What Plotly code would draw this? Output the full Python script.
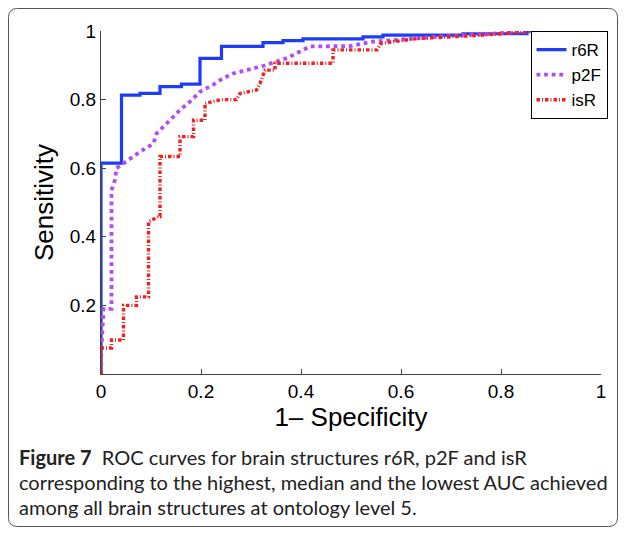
import plotly.graph_objects as go

# r6R (highest AUC)
r6r_fpr = [0, 0, 0.041, 0.041, 0.078, 0.078, 0.118, 0.118, 0.161, 0.161, 0.198, 0.198, 0.241, 0.241,
           0.324, 0.324, 0.364, 0.364, 0.404, 0.404, 0.524, 0.524, 0.564, 0.564, 0.724, 0.724, 0.852, 0.852, 1.0]
r6r_tpr = [0, 0.615, 0.615, 0.813, 0.813, 0.818, 0.818, 0.838, 0.838, 0.845, 0.845, 0.92, 0.92, 0.955,
           0.955, 0.966, 0.966, 0.972, 0.972, 0.977, 0.977, 0.983, 0.983, 0.988, 0.988, 0.992, 0.992, 1.0, 1.0]

# p2F (median AUC)
p2f_fpr = [0, 0.005, 0.005, 0.021, 0.021, 0.028, 0.031, 0.045, 0.078, 0.105, 0.111, 0.138, 0.158, 0.178,
           0.198, 0.224, 0.244, 0.264, 0.292, 0.324, 0.372, 0.398, 0.418, 0.498, 0.544, 0.672, 0.852, 1.0]
p2f_tpr = [0.05, 0.16, 0.19, 0.19, 0.536, 0.566, 0.60, 0.614, 0.648, 0.672, 0.701, 0.74, 0.77, 0.794,
           0.823, 0.843, 0.862, 0.876, 0.886, 0.898, 0.921, 0.94, 0.955, 0.956, 0.969, 0.983, 0.998, 1.0]

# isR (lowest AUC)
isr_fpr = [0, 0, 0.021, 0.021, 0.045, 0.045, 0.071, 0.071, 0.095, 0.095, 0.115, 0.118, 0.118, 0.158, 0.158,
           0.185, 0.185, 0.208, 0.208, 0.24, 0.271, 0.278, 0.311, 0.318, 0.328, 0.348, 0.348, 0.438, 0.464,
           0.464, 0.552, 0.56, 0.632, 0.764, 0.852, 1.0]
isr_tpr = [0, 0.076, 0.076, 0.099, 0.099, 0.2, 0.2, 0.225, 0.225, 0.444, 0.459, 0.459, 0.634, 0.634, 0.692,
           0.692, 0.74, 0.74, 0.789, 0.80, 0.80, 0.818, 0.828, 0.847, 0.886, 0.886, 0.906, 0.906, 0.906,
           0.945, 0.945, 0.964, 0.978, 0.988, 0.998, 1.0]

series_names = ["r6R", "p2F", "isR"]
x_ticks = [0, 0.2, 0.4, 0.6, 0.8, 1]
x_tick_labels = ["0", "0.2", "0.4", "0.6", "0.8", "1"]
y_ticks = [0.2, 0.4, 0.6, 0.8, 1]
y_tick_labels = ["0.2", "0.4", "0.6", "0.8", "1"]

caption_lines = [
    "<b>Figure 7</b>  ROC curves for brain structures r6R, p2F and isR",
    "corresponding to the highest, median and the lowest AUC achieved",
    "among all brain structures at ontology level 5.",
]

fig = go.Figure()
fig.add_trace(go.Scatter(x=r6r_fpr, y=r6r_tpr, mode="lines", name=series_names[0],
                         line=dict(color="#1f3cf5", width=3.2, dash="solid")))
fig.add_trace(go.Scatter(x=p2f_fpr, y=p2f_tpr, mode="lines", name=series_names[1],
                         line=dict(color="#b24cf5", width=3.8, dash="dot")))
fig.add_trace(go.Scatter(x=isr_fpr, y=isr_tpr, mode="lines", name=series_names[2],
                         line=dict(color="#f02020", width=3.4, dash="3.5px,2px,1px,2px")))

OFF = 8  # the page body has an 8px margin
W, H = 626 - OFF, 535 - OFF
L, T = 101 - OFF, 31 - OFF
R = W - (601 - OFF)
B = H - (374 - OFF)
pw, ph = W - L - R, H - T - B

def px2paper(px, py):
    return (px - OFF - L) / pw, (H - B - (py - OFF)) / ph

# rounded frame around whole figure
x0, y0 = px2paper(8.5, 8.5)
x1, y1 = px2paper(617.5, 526.5)
rx, ry = 9 / pw, 9 / ph
path = (f"M {x0+rx},{y0} L {x1-rx},{y0} Q {x1},{y0} {x1},{y0-ry} "
        f"L {x1},{y1+ry} Q {x1},{y1} {x1-rx},{y1} "
        f"L {x0+rx},{y1} Q {x0},{y1} {x0},{y1+ry} "
        f"L {x0},{y0-ry} Q {x0},{y0} {x0+rx},{y0} Z")
fig.add_shape(type="path", path=path, xref="paper", yref="paper",
              line=dict(color="#555555", width=1))

annotations = []
for i, line in enumerate(caption_lines):
    cx, cy = px2paper(17, 457 + 25 * i)
    annotations.append(dict(text=line, x=cx, y=cy, xref="paper", yref="paper",
                            xanchor="left", yanchor="middle", showarrow=False,
                            font=dict(family="Lato", size=20, color="#222222")))

fig.update_layout(
    width=W, height=H,
    margin=dict(l=L, r=R, t=T, b=B, pad=0),
    paper_bgcolor="white", plot_bgcolor="white",
    font=dict(family="Liberation Sans, Arial, sans-serif", color="black"),
    annotations=annotations,
    showlegend=True,
    legend=dict(x=px2paper(569, 0)[0], y=px2paper(0, 31)[1], xanchor="center", yanchor="top",
                bordercolor="black", borderwidth=1, bgcolor="white",
                font=dict(size=17, family="Liberation Sans, Arial, sans-serif"),
                tracegroupgap=0, itemwidth=30),
)
fig.update_xaxes(range=[0, 1], tickvals=x_ticks, ticktext=x_tick_labels,
                 showgrid=False, zeroline=False, showline=True, linecolor="#444444", linewidth=1,
                 ticks="inside", ticklen=5, tickcolor="#444444", tickfont=dict(size=19),
                 title=dict(text="1\u2013 Specificity", font=dict(size=26), standoff=1))
fig.update_yaxes(range=[0, 1], tickvals=y_ticks, ticktext=y_tick_labels,
                 showgrid=False, zeroline=False, showline=True, linecolor="#444444", linewidth=1,
                 ticks="inside", ticklen=5, tickcolor="#444444", tickfont=dict(size=19),
                 title=dict(text="Sensitivity", font=dict(size=26), standoff=8))

fig.write_html("out.html")
